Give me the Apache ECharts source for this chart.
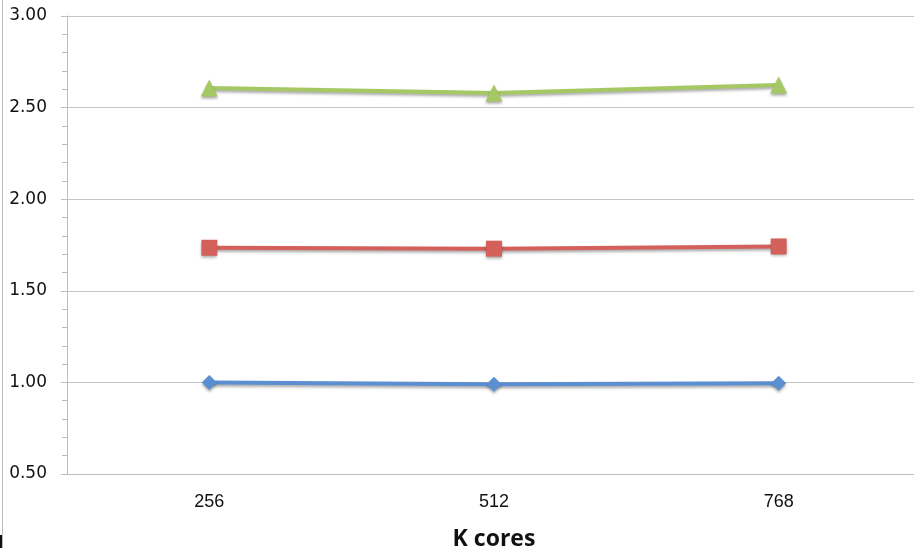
<!DOCTYPE html>
<html><head><meta charset="utf-8">
<script src="https://cdn.jsdelivr.net/npm/echarts@6/dist/echarts.min.js"></script>
<style>html,body{margin:0;padding:0;background:#fff;overflow:hidden;width:914px;height:548px}#c{width:921px;height:548px}</style>
</head><body><div id="c"></div>
<script>
const categories = ['256', '512', '768'];
const blueValues = [1.00, 0.99, 0.995];
const redValues = [1.735, 1.73, 1.742];
const greenValues = [2.607, 2.58, 2.623];
const yTicks = [0.5, 3.0, 0.5]; // min, max, interval

const chart = echarts.init(document.getElementById('c'), null, {renderer: 'canvas'});
const shadow = {shadowColor: 'rgba(0,0,0,0.35)', shadowBlur: 3, shadowOffsetY: 2};
function mk(name, data, color, symbol, size) {
  return {
    name, type: 'line', data, symbol, symbolSize: size, showSymbol: true,
    lineStyle: Object.assign({color, width: 4}, shadow),
    itemStyle: Object.assign({color, borderColor: color, borderWidth: 0}, shadow),
    z: 3
  };
}
chart.setOption({
  animation: false,
  grid: {left: 67, right: 0, top: 16, bottom: 74, outerBoundsMode: 'none', containLabel: false},
  xAxis: {
    type: 'category', data: categories, boundaryGap: true,
    name: 'K cores', nameLocation: 'middle', nameGap: 54,
    nameTextStyle: {fontFamily: 'Open Sans', fontWeight: 'bold', fontSize: 23, color: '#111'},
    axisLine: {lineStyle: {color: '#bdbdbd', width: 1}},
    axisTick: {show: false},
    axisLabel: {fontFamily: 'Liberation Sans', fontSize: 18, color: '#111', margin: 19}
  },
  yAxis: {
    type: 'value', min: yTicks[0], max: yTicks[1], interval: yTicks[2],
    axisLine: {show: true, lineStyle: {color: '#bdbdbd', width: 1}},
    axisTick: {show: true, length: 6, lineStyle: {color: '#bdbdbd'}},
    minorTick: {show: true, splitNumber: 5, length: 5, lineStyle: {color: '#bdbdbd'}},
    splitLine: {lineStyle: {color: '#c4c4c4', width: 1}},
    axisLabel: {fontFamily: 'DejaVu Sans', fontSize: 17, color: '#111', margin: 20,
      formatter: v => v.toFixed(2)}
  },
  series: [
    mk('blue', blueValues, '#5b8fd1', 'diamond', 15),
    mk('red', redValues, '#d3605b', 'rect', 16),
    mk('green', greenValues, '#a5c864', 'triangle', 17)
  ],
  graphic: [
    {type: 'line', shape: {x1: 2.5, y1: 0, x2: 2.5, y2: 548}, style: {stroke: '#bdbdbd', lineWidth: 1}},
    {type: 'rect', shape: {x: 0, y: 535, width: 2, height: 13}, style: {fill: '#111'}}
  ]
});
</script></body></html>
